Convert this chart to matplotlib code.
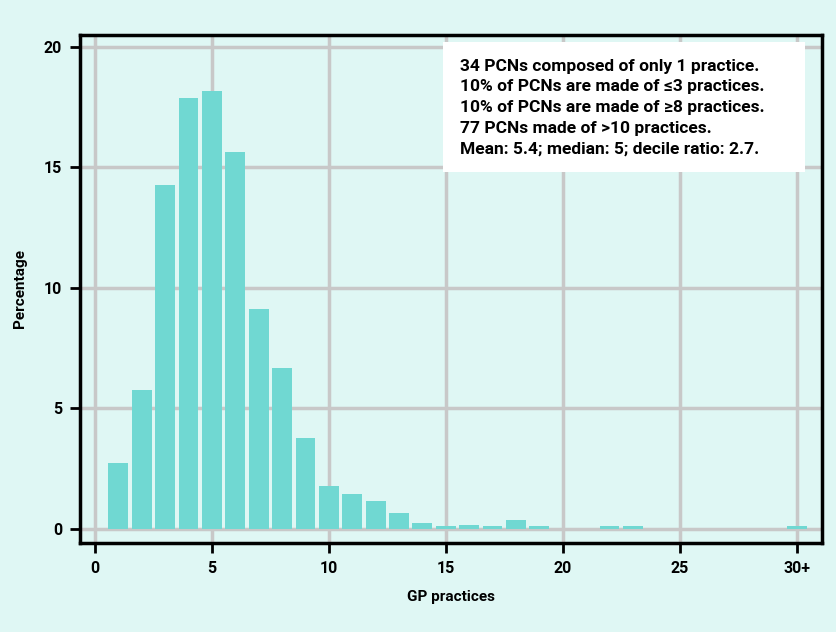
import matplotlib.pyplot as plt
from matplotlib.patches import Rectangle
import numpy as np

# Number of GP practices per PCN (30 = 30+)
practices = np.arange(1, 31)
percentage = [2.73, 5.77, 14.25, 17.86, 18.17, 15.63, 9.13, 6.67, 3.78, 1.78,
              1.45, 1.15, 0.65, 0.25, 0.10, 0.18, 0.10, 0.35, 0.10, 0.0,
              0.0, 0.10, 0.10, 0.0, 0.0, 0.0, 0.0, 0.0, 0.0, 0.10]
xticks = [0, 5, 10, 15, 20, 25, 30]
xtick_labels = ['0', '5', '10', '15', '20', '25', '30+']
yticks = [0, 5, 10, 15, 20]

notes = ("34 PCNs composed of only 1 practice.\n"
         "10% of PCNs are made of \u22643 practices.\n"
         "10% of PCNs are made of \u22658 practices.\n"
         "77 PCNs made of >10 practices.\n"
         "Mean: 5.4; median: 5; decile ratio: 2.7.")

bg = '#dff7f4'
bar_color = '#70d8d2'

plt.rcParams['font.family'] = ['Roboto', 'DejaVu Sans']

fig = plt.figure(figsize=(8.37, 6.32), dpi=100, facecolor=bg)
ax = fig.add_axes([0.0956, 0.141, 0.886, 0.804])
ax.set_facecolor(bg)

ax.bar(practices, percentage, width=0.85, color=bar_color, zorder=3)

ax.set_xlim(-0.64, 31.07)
ax.set_ylim(-0.58, 20.5)
ax.set_xticks(xticks)
ax.set_xticklabels(xtick_labels)
ax.set_yticks(yticks)
ax.grid(True, color='#c8c8c8', linewidth=2.5, zorder=0)
ax.set_axisbelow(True)

for s in ax.spines.values():
    s.set_linewidth(2.5)
    s.set_color('black')
ax.tick_params(axis='both', length=7, width=2, labelsize=11.5, pad=6)
for lab in ax.get_xticklabels() + ax.get_yticklabels():
    lab.set_fontweight('bold')

ax.set_xlabel('GP practices', fontsize=11, fontweight='bold', labelpad=10)
ax.set_ylabel('Percentage', fontsize=11, fontweight='bold', labelpad=12)

# white notes box
ax.add_patch(Rectangle((0.489, 0.730), 0.488, 0.256, transform=ax.transAxes,
                       fc='white', ec='none', zorder=5))
ax.text(0.513, 0.953, notes, transform=ax.transAxes, ha='left', va='top',
        fontsize=12.5, fontweight='bold', linespacing=1.47, zorder=6)

fig.savefig('out.png', dpi=100, facecolor=bg)
